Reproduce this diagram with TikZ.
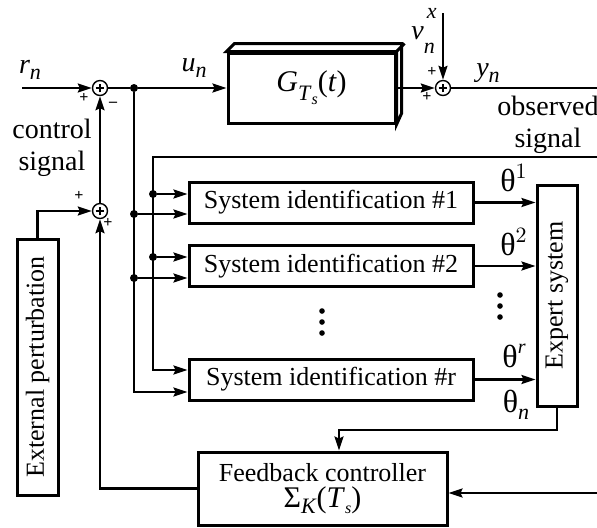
\documentclass[tikz,border=0pt]{standalone}
\usepackage{fontspec}
\setmainfont{Liberation Serif}
\usetikzlibrary{arrows.meta,positioning}
\newcommand{\mvar}[2]{\textit{#1}\raisebox{-0.5ex}{\fontsize{11}{11}\selectfont\textit{#2}}}
\newcommand{\tsub}{\textit{T}\raisebox{-0.45ex}{\fontsize{8}{8}\selectfont\textit{s}}}
\tikzset{
  blk/.style={draw,line width=1.5pt,fill=white,inner sep=0pt,align=center,font=\fontsize{13}{15}\selectfont},
  sumnode/.style={circle,draw,line width=0.7pt,minimum size=7.5pt,inner sep=0pt,
    path picture={\draw[line width=0.8pt] (path picture bounding box.center) +(-2.2pt,0) -- +(2.2pt,0)
      (path picture bounding box.center) +(0,-2.2pt) -- +(0,2.2pt);}},
  sig/.style={line width=1.1pt,-{Stealth[length=7pt,width=4.5pt,inset=1pt]}},
  wire/.style={line width=1.1pt},
  jdot/.style={circle,fill,inner sep=0pt,minimum size=4pt},
  sgn/.style={font=\fontsize{8}{8}\selectfont\bfseries,inner sep=0pt},
  lbl/.style={font=\fontsize{14}{16}\selectfont,inner sep=0pt,align=center},
  thl/.style={font=\fontsize{16}{18}\selectfont,inner sep=0pt}
}
\begin{document}
\begin{tikzpicture}[x=0.5pt,y=-0.5pt]
\useasboundingbox (0,0) rectangle (597,527);
% blocks
\node[blk,minimum width=83.5pt,minimum height=35pt] (G) at (311.5,88) {\fontsize{15}{17}\selectfont\textit{G}\raisebox{-0.6ex}{\fontsize{11}{11}\selectfont\tsub}(\textit{t})};
\draw[line width=1.5pt,fill=white] (G.north west) -- ++(8,-8) -- ++(167,0) -- ++(0,70) -- (G.south east) -- (G.north east) -- cycle;
\draw[line width=1.5pt] (G.north east) -- ++(8,-8);
\node[blk,minimum width=142pt,minimum height=20.5pt] (si1) at (331,202.5) {System identification \#1};
\node[blk,minimum width=142pt,minimum height=20.5pt] (si2) at (331,266) {System identification \#2};
\node[blk,minimum width=142pt,minimum height=20.5pt] (sir) at (331,379.5) {System identification \#r};
\node[blk,rotate=90,minimum width=110.5pt,minimum height=20pt] (ex) at (557,295.5) {Expert system};
\node[blk,rotate=90,minimum width=128pt,minimum height=20.5pt] (ext) at (37.5,367) {External perturbation};
\node[blk,minimum width=124.5pt,minimum height=36.5pt] (fb) at (322.5,488.5) {Feedback controller\\[-2pt]\fontsize{15}{17}\selectfont Σ\raisebox{-0.5ex}{\fontsize{11}{11}\selectfont\textit{K}}(\tsub)};
% summing points
\node[sumnode] (s1) at (100,88) {};
\node[sumnode] (s2) at (443,88) {};
\node[sumnode] (s3) at (100,211) {};
\node[sgn] at (84,98) {+};
\node[sgn] at (113,104) {--};
\node[sgn] at (432,72) {+};
\node[sgn] at (427,97) {+};
\node[sgn] at (79,196) {+};
\node[sgn] at (108,223) {+};
% free ends
\coordinate (rin) at (22,88);
\coordinate (vin) at (443,13);
\coordinate (yout) at (597,88);
\coordinate (obs) at (597,157);
\coordinate (fbin) at (597,493);
\coordinate (kx) at (339,430);
\node[jdot] (j0) at (134,88) {};
\node[jdot] (j1) at (153,194) {};
\node[jdot] (j2) at (134,214) {};
\node[jdot] (j3) at (153,257) {};
\node[jdot] (j4) at (134,278) {};
% top loop
\draw[sig] (rin) -- (s1);
\draw[wire] (s1) -- (j0);
\draw[sig] (j0) -- (G);
\draw[sig] (G.east) -- (s2);
\draw[sig] (vin) -- (s2);
\draw[wire] (s2) -- (yout);
% inputs to the identifiers
\draw[sig] (obs) -| (153,370) -- (sir.west |- 0,370);
\draw[sig] (j0) |- (sir.west |- 0,392);
\draw[sig] (j1) -- (si1.west |- j1);
\draw[sig] (j2) -- (si1.west |- j2);
\draw[sig] (j3) -- (si2.west |- j3);
\draw[sig] (j4) -- (si2.west |- j4);
% estimates
\draw[sig] (si1.east) -- (si1.east -| ex.north);
\draw[sig] (si2.east) -- (si2.east -| ex.north);
\draw[sig] (sir.east) -- (sir.east -| ex.north);
\draw[sig] (ex.west) |- (kx) -- (kx |- fb.north);
\draw[sig] (fbin) -- (fb.east |- fbin);
% control signal
\draw[sig] (fb.west) -| (s3);
\draw[sig] (ext.east) |- (s3);
\draw[sig] (s3) -- (s1);
% skipped identifiers
\foreach \k in {0,1,2} {
  \fill (322,311+\k*11) circle (1.4pt);
  \fill (500,295+\k*11) circle (1.4pt);
}
% labels
\node[lbl] at (30,70) {\mvar{r}{n}};
\node[lbl] at (194,68) {\mvar{u}{n}};
\node[lbl] at (424,31) {\textit{v}\raisebox{-1.1ex}{\fontsize{11}{11}\selectfont\textit{n}}\hspace{-4pt}\raisebox{1.6ex}{\fontsize{11}{11}\selectfont\textit{x}}};
\node[lbl] at (488,73) {\mvar{y}{n}};
\node[lbl] at (548,125) {observed\\signal};
\node[lbl] at (52,148) {control\\signal};
\node[thl] at (514,178) {θ$^1$};
\node[thl] at (514,242) {θ$^2$};
\node[thl] at (514,356) {θ\raisebox{0.9ex}{\fontsize{10}{10}\selectfont\textit{r}}};
\node[thl] at (516,405) {θ\raisebox{-0.5ex}{\fontsize{11}{11}\selectfont\textit{n}}};
\end{tikzpicture}
\end{document}
